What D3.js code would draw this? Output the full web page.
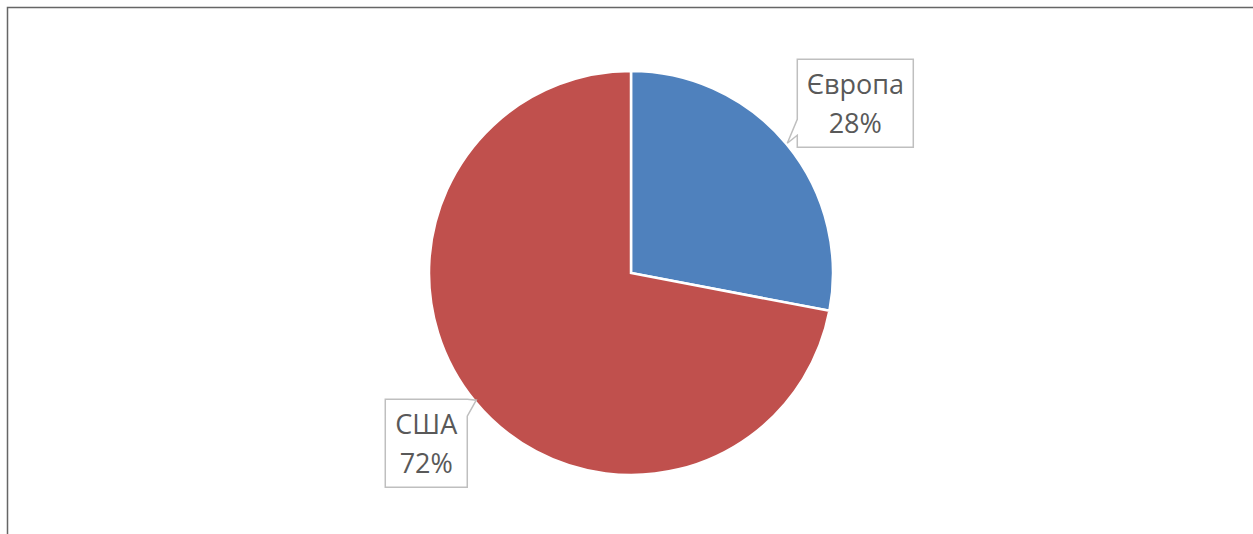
<!DOCTYPE html>
<html><head><meta charset="utf-8">
<script src="https://cdn.jsdelivr.net/npm/d3@7"></script>
<style>html,body{margin:0;padding:0;background:#fff;overflow:hidden}</style>
</head><body>
<svg id="c" width="1253" height="534"></svg>
<script>
const categories = ["Європа", "США"];
const values = [28, 72];
const percentLabels = ["28%", "72%"];
const colors = ["#4F81BD", "#C0504D"];

const svg = d3.select("#c");
const W = 1253, H = 534;
// frame
svg.append("path").attr("d", `M7.5,${H} V7.5 H${W}`).attr("fill","none").attr("stroke","#666").attr("stroke-width",1.5);

const cx = 631, cy = 273, R = 202;
const g = svg.append("g").attr("transform", `translate(${cx},${cy})`);
const pie = d3.pie().sort(null).value(d => d)(values);
const arc = d3.arc().innerRadius(0).outerRadius(R);
g.selectAll("path.s").data(pie).join("path").attr("class","s")
  .attr("d", arc).attr("fill", (d,i) => colors[i]).attr("stroke","#fff").attr("stroke-width",2.5).attr("stroke-linejoin","miter");

// labels
const labelR = [282, 267];
const labelShift = [[7, 10], [1, 0]];
const boxes = [
  {w:116, h:88, side:"left"},
  {w:82, h:88, side:"right"}
];
pie.forEach((d,i) => {
  const a = (d.startAngle + d.endAngle)/2;
  const lx = labelR[i]*Math.sin(a) + labelShift[i][0], ly = -labelR[i]*Math.cos(a) + labelShift[i][1];
  const b = boxes[i];
  const x0 = lx - b.w/2, y0 = ly - b.h/2, x1 = lx + b.w/2, y1 = ly + b.h/2;
  let p;
  if (b.side === "left") {
    p = `M${x0},${y0} H${x1} V${y1} H${x0} V${y1-12} L${x0-10},${y1-4} L${x0},${y1-28} Z`;
  } else {
    p = `M${x0},${y0} H${x1} L${x1+9},${y0+1} L${x1},${y0+17} V${y1} H${x0} Z`;
  }
  g.append("path").attr("d", p).attr("fill","#fff").attr("stroke","#BFBFBF").attr("stroke-width",1.5);
  const t = g.append("text").attr("text-anchor","middle").attr("fill","#595959")
    .style("font-family","'Open Sans', 'Noto Sans', sans-serif").style("font-size","27px");
  t.append("tspan").attr("x", lx).attr("y", ly - 9).text(categories[i]);
  t.append("tspan").attr("x", lx).attr("y", ly + 30).text(percentLabels[i]);
});
</script>
</body></html>
